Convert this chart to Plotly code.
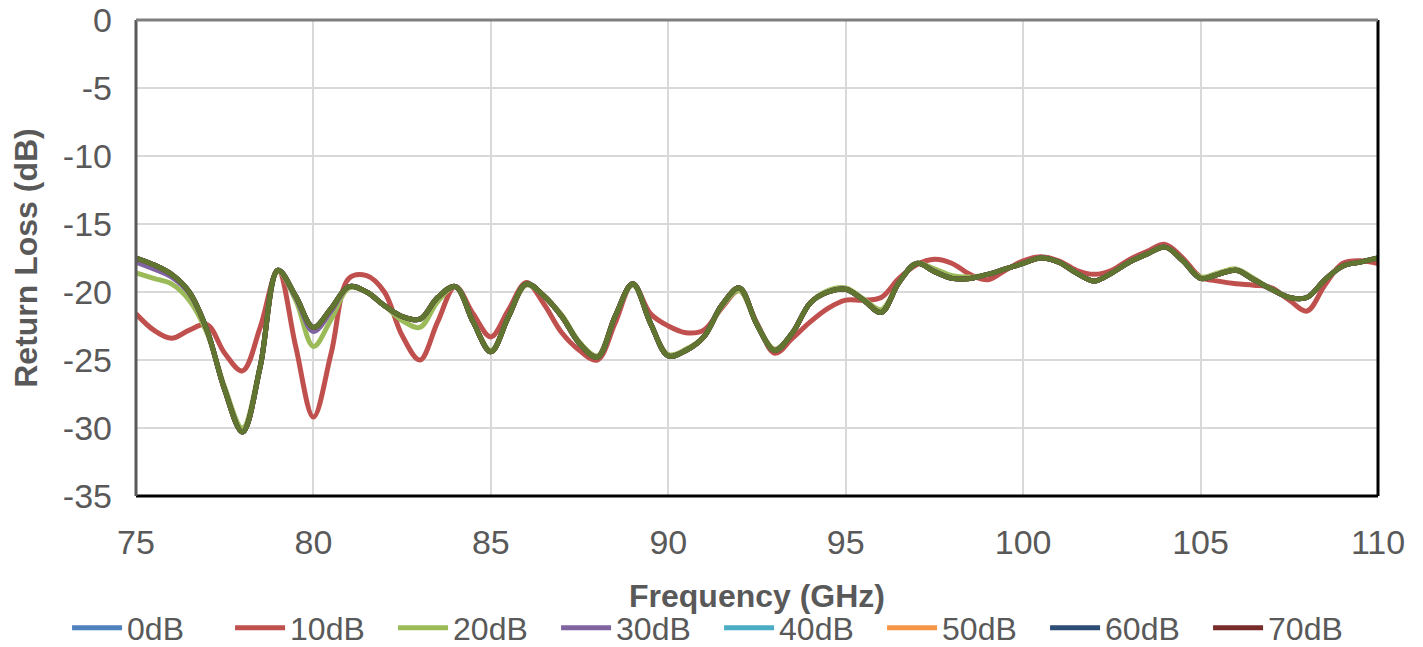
import plotly.graph_objects as go

freq = [75.0 + 0.5 * i for i in range(71)]

rl_main = [-17.5, -18.0, -18.7, -20.0, -22.8, -27.2, -30.3, -25.5, -18.4, -20.3,
           -22.6, -21.2, -19.6, -20.0, -21.0, -21.8, -22.0, -20.4, -19.6, -22.2,
           -24.4, -21.8, -19.4, -20.3, -21.8, -23.8, -24.8, -21.8, -19.4, -22.3,
           -24.7, -24.3, -23.3, -21.0, -19.7, -22.4, -24.3, -23.0, -20.8, -20.0,
           -19.8, -20.6, -21.5, -19.3, -17.9, -18.5, -19.0, -19.0, -18.7, -18.3,
           -17.9, -17.5, -17.8, -18.6, -19.2, -18.6, -17.8, -17.2, -16.7, -17.7,
           -19.0, -18.7, -18.4, -19.1, -19.8, -20.4, -20.4, -19.1, -18.1, -17.8,
           -17.5]

rl_10db = [-21.6, -22.8, -23.4, -22.8, -22.4, -24.5, -25.8, -22.6, -18.4, -24.0,
           -29.2, -24.5, -19.0, -18.8, -20.0, -23.2, -25.0, -22.2, -19.6, -21.6,
           -23.3, -21.3, -19.3, -20.9, -23.0, -24.3, -25.0, -22.3, -19.4, -21.6,
           -22.5, -23.0, -22.8, -21.2, -19.9, -22.3, -24.5, -23.4, -22.2, -21.2,
           -20.6, -20.6, -20.4, -19.0, -18.0, -17.6, -17.9, -18.7, -19.1, -18.4,
           -17.7, -17.4, -17.7, -18.4, -18.7, -18.4, -17.6, -17.0, -16.5, -17.5,
           -18.9, -19.2, -19.4, -19.5, -19.7, -20.6, -21.4, -19.5, -17.9, -17.7,
           -17.9]

rl_20db = [-18.6, -19.0, -19.4, -20.6, -23.0, -27.0, -30.0, -25.4, -18.5, -20.6,
           -24.0, -22.0, -19.7, -20.0, -21.0, -22.1, -22.6, -20.7, -19.6, -22.2,
           -24.3, -21.8, -19.5, -20.3, -21.7, -23.7, -24.7, -21.8, -19.5, -22.3,
           -24.6, -24.2, -23.3, -21.1, -19.9, -22.4, -24.2, -23.0, -20.8, -19.9,
           -19.7, -20.5, -21.3, -19.3, -17.9, -18.3, -18.8, -18.9, -18.7, -18.3,
           -17.9, -17.5, -17.8, -18.6, -19.2, -18.6, -17.8, -17.2, -16.7, -17.7,
           -18.9, -18.6, -18.3, -19.0, -19.8, -20.4, -20.4, -19.1, -18.1, -17.8,
           -17.5]

rl_30db = [-17.8, -18.3, -18.9, -20.1, -22.8, -27.2, -30.3, -25.5, -18.4, -20.4,
           -22.9, -21.4, -19.6, -20.0, -21.0, -21.8, -22.0, -20.4, -19.6, -22.2,
           -24.4, -21.8, -19.4, -20.3, -21.8, -23.8, -24.8, -21.8, -19.4, -22.3,
           -24.7, -24.3, -23.3, -21.0, -19.7, -22.4, -24.3, -23.0, -20.8, -20.0,
           -19.8, -20.6, -21.5, -19.3, -17.9, -18.5, -19.0, -19.0, -18.7, -18.3,
           -17.9, -17.5, -17.8, -18.6, -19.2, -18.6, -17.8, -17.2, -16.7, -17.7,
           -19.0, -18.7, -18.4, -19.1, -19.8, -20.4, -20.4, -19.1, -18.1, -17.8,
           -17.5]

series_names = ["0dB", "10dB", "20dB", "30dB", "40dB", "50dB", "60dB", "70dB", "80dB"]
series_values = [rl_main, rl_10db, rl_20db, rl_30db, rl_main, rl_main, rl_main, rl_main, rl_main]
series_colors = ["#4F81BD", "#C0504D", "#9BBB59", "#8064A2", "#4BACC6",
                 "#F79646", "#2C4D75", "#772C2A", "#5F7530"]
series_in_legend = [True, True, True, True, True, True, True, True, False]

x_ticks = [75, 80, 85, 90, 95, 100, 105, 110]
y_ticks = [0, -5, -10, -15, -20, -25, -30, -35]

fig = go.Figure()
for name, vals, col, leg in zip(series_names, series_values, series_colors, series_in_legend):
    fig.add_trace(go.Scatter(
        x=freq, y=vals, name=name, mode="lines",
        line=dict(color=col, width=5, shape="spline", smoothing=1.0),
        showlegend=leg,
    ))

font_family = "Liberation Sans, Arial, sans-serif"
fig.update_layout(
    width=1415, height=639,
    margin=dict(l=128, r=45, t=12, b=151, autoexpand=False),
    paper_bgcolor="white", plot_bgcolor="white",
    font=dict(family=font_family, color="#595959", size=32),
    showlegend=True,
    legend=dict(
        orientation="h", xref="paper", yref="paper",
        x=-0.0555, xanchor="left", y=-0.277, yanchor="middle",
        font=dict(size=32, color="#595959"), itemwidth=50,
        entrywidth=98, entrywidthmode="pixels",
        tracegroupgap=0, itemsizing="constant",
        bgcolor="rgba(0,0,0,0)",
    ),
    xaxis=dict(
        range=[75, 110], tickvals=x_ticks, ticktext=[str(v) for v in x_ticks],
        showgrid=True, gridcolor="#D9D9D9", gridwidth=2,
        zeroline=False, showline=False, ticks="", automargin=False,
        tickfont=dict(size=34, color="#595959"),
        ticklabelstandoff=23, ticklabeloverflow="allow",
        title=dict(text="<b>Frequency (GHz)</b>", font=dict(size=32, color="#595959"), standoff=24),
    ),
    yaxis=dict(
        range=[-35, 0], tickvals=y_ticks, ticktext=[str(v) for v in y_ticks],
        showgrid=True, gridcolor="#D9D9D9", gridwidth=2,
        zeroline=False, showline=False, ticks="", automargin=False,
        tickfont=dict(size=34, color="#595959"),
        ticklabelstandoff=23, ticklabeloverflow="allow",
        title=dict(text="<b>Return Loss (dB)</b>", font=dict(size=32, color="#595959"), standoff=22),
    ),
    shapes=[
        dict(type="line", xref="paper", yref="paper", x0=0, x1=1, y0=0, y1=0,
             line=dict(color="#000000", width=3)),
        dict(type="line", xref="paper", yref="paper", x0=1, x1=1, y0=0, y1=1,
             line=dict(color="#000000", width=3)),
        dict(type="line", xref="paper", yref="paper", x0=0, x1=0, y0=0, y1=1,
             line=dict(color="#595959", width=3)),
        dict(type="line", xref="paper", yref="paper", x0=0, x1=1, y0=1, y1=1,
             line=dict(color="#7F7F7F", width=3)),
    ],
)

fig.write_html("out.html")
